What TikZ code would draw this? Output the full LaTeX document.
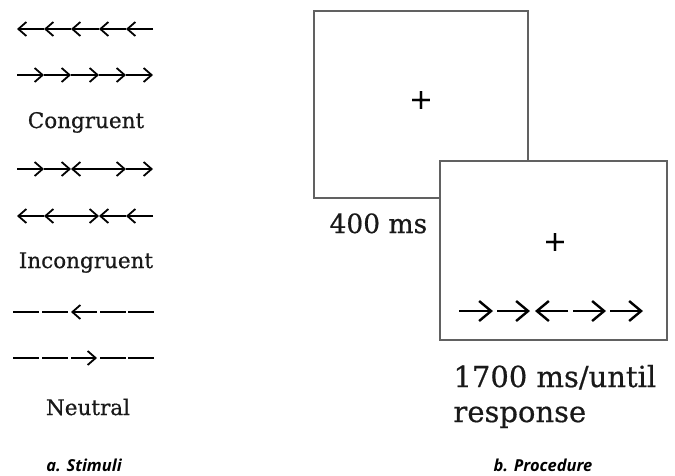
\documentclass[tikz,border=0pt]{standalone}
\usepackage{fontspec}
\setmainfont{DejaVu Serif}[UprightFeatures={FakeBold=0.6}]
\newfontfamily\capsans{Open Sans}
\usetikzlibrary{arrows.meta, positioning}

\tikzset{
  screen/.style={draw=black!62, line width=1.7pt, fill=white, inner sep=0pt},
  cond/.style={font=\fontsize{21.5}{26}\selectfont, anchor=base, text=black!90},
  timing/.style={font=\fontsize{29}{35}\selectfont, anchor=base west, text=black!90},
  cross/.style={font=\fontsize{28}{28}\selectfont},
  panel/.style={font=\capsans\bfseries\itshape\fontsize{16.5}{18}\selectfont, anchor=base},
  stim/.style={line width=1.8pt, -{Straight Barb[length=8pt,width=14pt]}},
  stimbar/.style={line width=1.8pt},
  probe/.style={line width=2.4pt, -{Straight Barb[length=12pt,width=20pt]}}
}

\begin{document}
\begin{tikzpicture}[x=1pt, y=-1pt]
		\useasboundingbox (0,0) rectangle (675,475);

		% a. Stimuli
		\draw[stim] (44,29) -- (17,29); \draw[stim] (71,29) -- (44,29); \draw[stim] (99,29) -- (71,29); \draw[stim] (126,29) -- (99,29); \draw[stim] (153,29) -- (126,29);
		\draw[stim] (17,75) -- (44,75); \draw[stim] (44,75) -- (71,75); \draw[stim] (71,75) -- (99,75); \draw[stim] (99,75) -- (126,75); \draw[stim] (126,75) -- (153,75);
		\node[cond] (congruent) at (86,128) {Congruent};

		\draw[stim] (17,169) -- (44,169); \draw[stim] (44,169) -- (71,169); \draw[stim] (99,169) -- (71,169); \draw[stim] (99,169) -- (126,169); \draw[stim] (126,169) -- (153,169);
		\draw[stim] (44,216) -- (17,216); \draw[stim] (71,216) -- (44,216); \draw[stim] (71,216) -- (99,216); \draw[stim] (126,216) -- (99,216); \draw[stim] (153,216) -- (126,216);
		\node[cond] (incongruent) at (86,268) {Incongruent};

		\draw[stimbar] (13,312) -- (39,312); \draw[stimbar] (42,312) -- (68,312); \draw[stim] (97,312) -- (71,312); \draw[stimbar] (100,312) -- (126,312); \draw[stimbar] (128,312) -- (154,312);
		\draw[stimbar] (13,358) -- (39,358); \draw[stimbar] (42,358) -- (68,358); \draw[stim] (71,358) -- (97,358); \draw[stimbar] (100,358) -- (126,358); \draw[stimbar] (128,358) -- (154,358);
		\node[cond] (neutral) at (88,415) {Neutral};

		\node[panel] (stimuli) at (84,471) {a. Stimuli};

		% b. Procedure
		\node[screen, minimum width=214pt, minimum height=187pt] (fixscreen) at (421,104.5) {};
		\node[cross] (fixcross) at (421,100) {+};
		\node[timing, font=\fontsize{26.5}{35}\selectfont] (fixtime) at (326,233) {400 ms};

		\node[screen, minimum width=227pt, minimum height=179pt] (probescreen) at (553.5,250.5) {};
		\node[cross] (probecross) at (555,242) {+};
		\draw[probe] (459,311) -- (493,311); \draw[probe] (497,311) -- (530,311); \draw[probe] (568,311) -- (535,311); \draw[probe] (573,311) -- (606,311); \draw[probe] (610,311) -- (643,311);
		\node[timing] (probetime) at (450,387) {1700 ms/until};
		\node[timing] (proberesp) at (450,422) {response};

		\node[panel] (procedure) at (543,471) {b. Procedure};
	\end{tikzpicture}
\end{document}
